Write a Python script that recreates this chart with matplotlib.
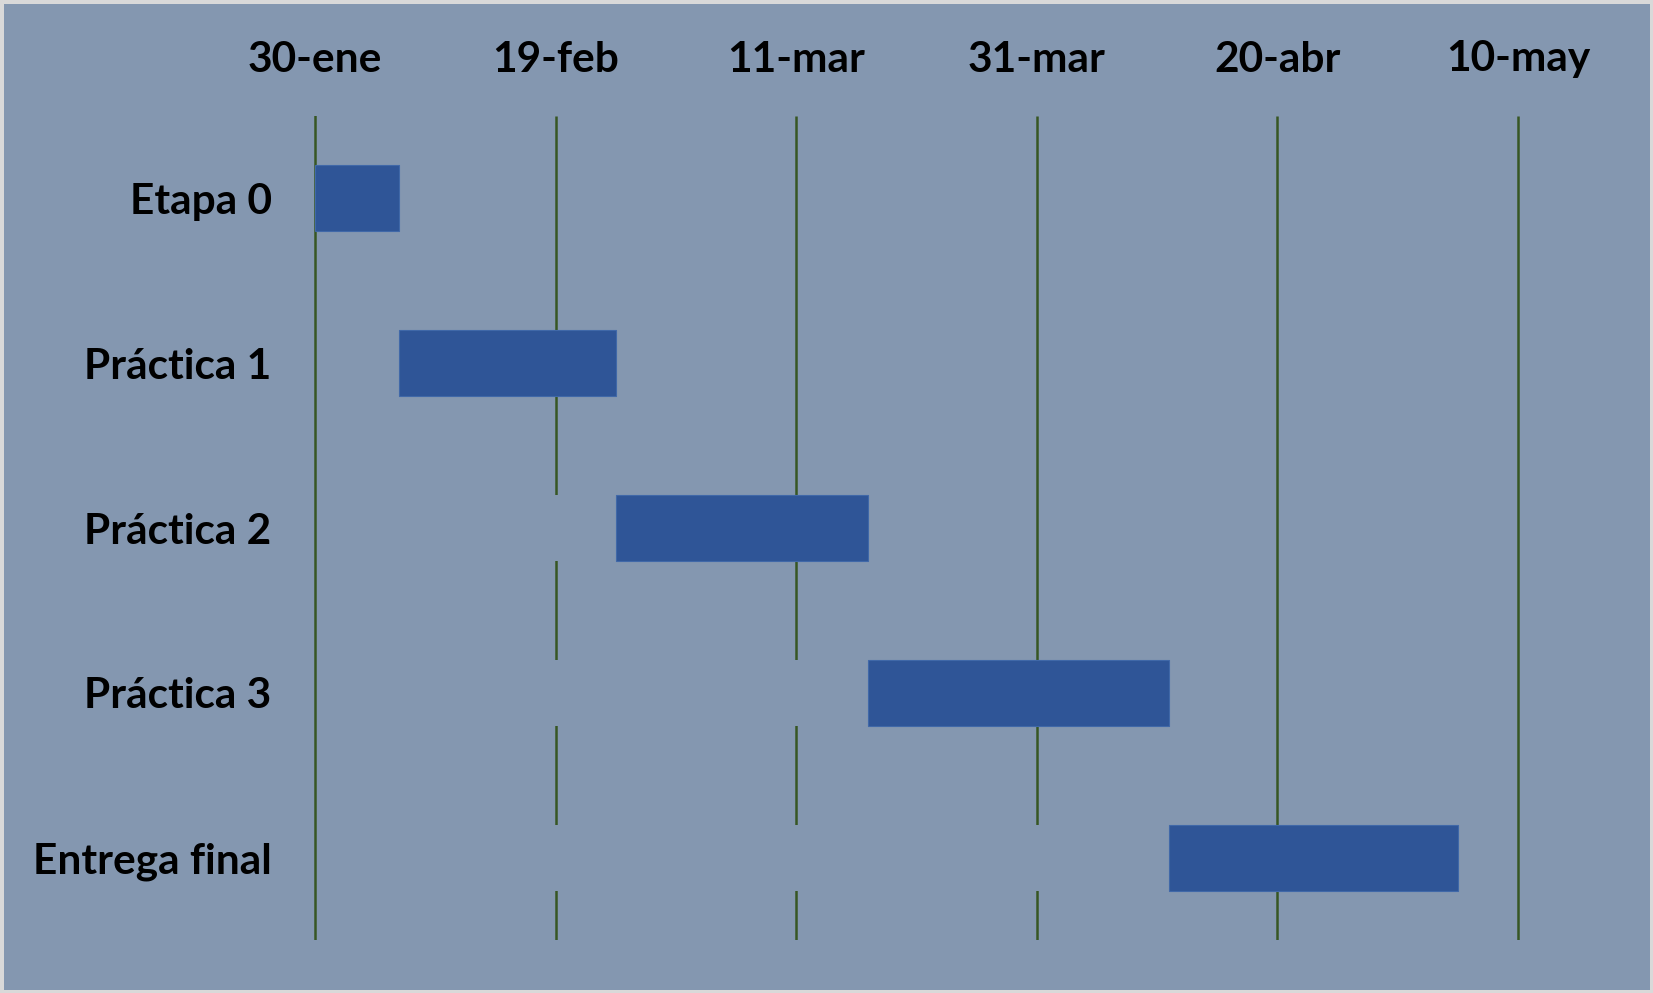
import datetime as dt
import matplotlib
matplotlib.use('Agg')
import matplotlib.pyplot as plt
import matplotlib.dates as mdates

# datos del cronograma
tareas = ['Etapa 0', 'Práctica 1', 'Práctica 2', 'Práctica 3', 'Entrega final']
inicios = ['2023-01-30', '2023-02-06', '2023-02-24', '2023-03-17', '2023-04-11']
duraciones = [7, 18, 21, 25, 24]  # días
fechas_ticks = ['2023-01-30', '2023-02-19', '2023-03-11', '2023-03-31', '2023-04-20', '2023-05-10']
etiquetas_ticks = ['30-ene', '19-feb', '11-mar', '31-mar', '20-abr', '10-may']

FONDO = '#8497B0'
BARRA = '#2F5597'
VERDE = '#375623'

plt.rcParams['font.family'] = ['Lato', 'DejaVu Sans']

inicio_num = [mdates.date2num(dt.date.fromisoformat(d)) for d in inicios]
ticks_num = [mdates.date2num(dt.date.fromisoformat(d)) for d in fechas_ticks]
x0 = ticks_num[0]
ocultas = [v - x0 for v in inicio_num]

fig = plt.figure(figsize=(16.53, 9.93), dpi=100)
fig.patch.set_facecolor(FONDO)
fig.patch.set_edgecolor('#D9D9D9')
fig.patch.set_linewidth(5)

# 12 px por día; el área va un día antes del 30-ene y uno después del 10-may
ax = fig.add_axes([303 / 1653, 1 - 940 / 993, (1530 - 303) / 1653, (940 - 116) / 993])
ax.set_facecolor(FONDO)

y = list(range(len(tareas)))
# líneas de cuadrícula (debajo de todo)
ax.vlines(ticks_num[1:], -0.5, len(tareas) - 0.5, color=VERDE, linewidth=1.8, zorder=0)
# serie invisible (mismo color del fondo) que tapa las líneas de cuadrícula
ax.barh(y, ocultas, left=x0, height=0.4, color=FONDO, zorder=1)
ax.barh(y, duraciones, left=inicio_num, height=0.4, color=BARRA,
        edgecolor='#4068A8', linewidth=0.8, zorder=3)
# eje vertical en la fecha de inicio, por encima de la serie invisible
ax.axvline(x0, color=VERDE, linewidth=1.8, zorder=2)

ax.set_xlim(x0 - 1, ticks_num[-1] + 1)
ax.set_ylim(len(tareas) - 0.5, -0.5)

ax.set_xticks(ticks_num)
ax.set_xticklabels(etiquetas_ticks, fontsize=30.5, fontweight='bold')
ax.xaxis.tick_top()
ax.tick_params(axis='x', length=0, pad=27)
ax.set_yticks(y)
ax.set_yticklabels(tareas, fontsize=30.5, fontweight='bold')
ax.tick_params(axis='y', length=0, pad=22.5)

for s in ax.spines.values():
    s.set_visible(False)

fig.savefig('out.png', dpi=100, facecolor=FONDO, edgecolor='#D9D9D9')
plt.close()
